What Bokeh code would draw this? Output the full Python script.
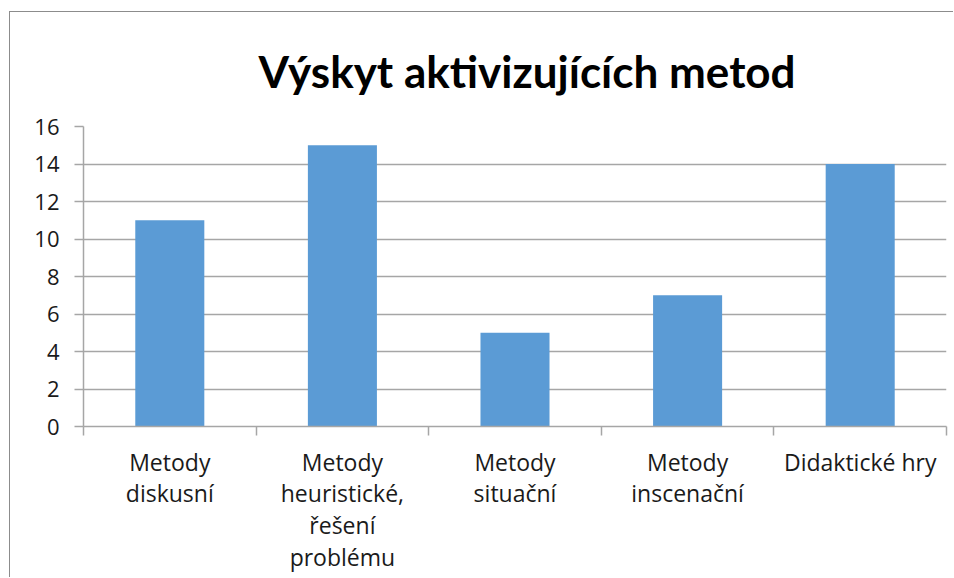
from bokeh.plotting import figure
from bokeh.models import (ColumnDataSource, FactorRange, Range1d, FixedTicker,
                          LinearAxis, CategoricalAxis)
from bokeh.embed import file_html
from bokeh.resources import INLINE

categories = ["Metody\ndiskusní", "Metody\nheuristické,\nřešení\nproblému",
              "Metody\nsituační", "Metody\ninscenační", "Didaktické hry"]
values = [11, 15, 5, 7, 14]
y_ticks = [0, 2, 4, 6, 8, 10, 12, 14, 16]
title_text = "Výskyt aktivizujících metod"

FONT = "Lato"
LABEL_FONT = "Open Sans"
GRID = "#A6A6A6"
TEXT = "#1A1A1A"

src = ColumnDataSource(dict(cat=categories, val=values))

p = figure(x_range=FactorRange(*categories, range_padding=0.0),
           y_range=Range1d(0, 16),
           width=944, height=566,
           x_axis_location=None,
           output_backend="svg", toolbar_location=None,
           min_border_left=73, min_border_right=8,
           min_border_top=114, min_border_bottom=152)

p.vbar(x="cat", top="val", width=0.4, source=src,
       fill_color="#5B9BD5", line_color=None)

p.title.text = title_text
p.title.text_font = FONT
p.title.text_font_style = "bold"
p.title.text_font_size = "44px"
p.title.text_color = "#000000"
p.title.align = "left"
p.title.offset = 175
p.title.standoff = 59

p.outline_line_color = None
p.background_fill_color = "white"
p.border_fill_color = "white"

p.xgrid.grid_line_color = None
p.ygrid.grid_line_color = GRID
p.ygrid.grid_line_width = 1.5

p.yaxis.ticker = FixedTicker(ticks=y_ticks)
p.yaxis.axis_line_color = GRID
p.yaxis.axis_line_width = 1.5
p.yaxis.major_tick_line_color = GRID
p.yaxis.major_tick_line_width = 1.5
p.yaxis.major_tick_out = 9
p.yaxis.major_tick_in = 0
p.yaxis.minor_tick_line_color = None
p.yaxis.major_label_standoff = 15
p.yaxis.major_label_text_font = LABEL_FONT
p.yaxis.major_label_text_font_size = "22px"
p.yaxis.major_label_text_color = TEXT

# axis carrying the tick marks at category boundaries
n = len(categories)
bounds = list(range(n + 1))
tick_axis = LinearAxis(ticker=FixedTicker(ticks=bounds),
                       major_label_overrides={b: "" for b in bounds},
                       major_label_text_font_size="1px",
                       major_label_standoff=0,
                       axis_line_color=GRID, axis_line_width=1.5,
                       major_tick_line_color=GRID, major_tick_line_width=1.5,
                       major_tick_out=9, major_tick_in=0,
                       minor_tick_line_color=None)
p.add_layout(tick_axis, "below")

label_axis = CategoricalAxis(axis_line_color=None, major_tick_line_color=None,
                             major_tick_out=0, major_tick_in=0,
                             major_label_standoff=10,
                             major_label_text_font=LABEL_FONT,
                             major_label_text_font_size="23px",
                             major_label_text_color=TEXT,
                             major_label_text_line_height=0.99,
                             major_label_orientation="horizontal")
p.add_layout(label_axis, "below")

p.styles = {"margin-left": "9px", "margin-top": "11px",
            "border-top": "1px solid #8C8C8C", "border-left": "1px solid #8C8C8C"}

open("out.html", "w").write(file_html(p, INLINE))
